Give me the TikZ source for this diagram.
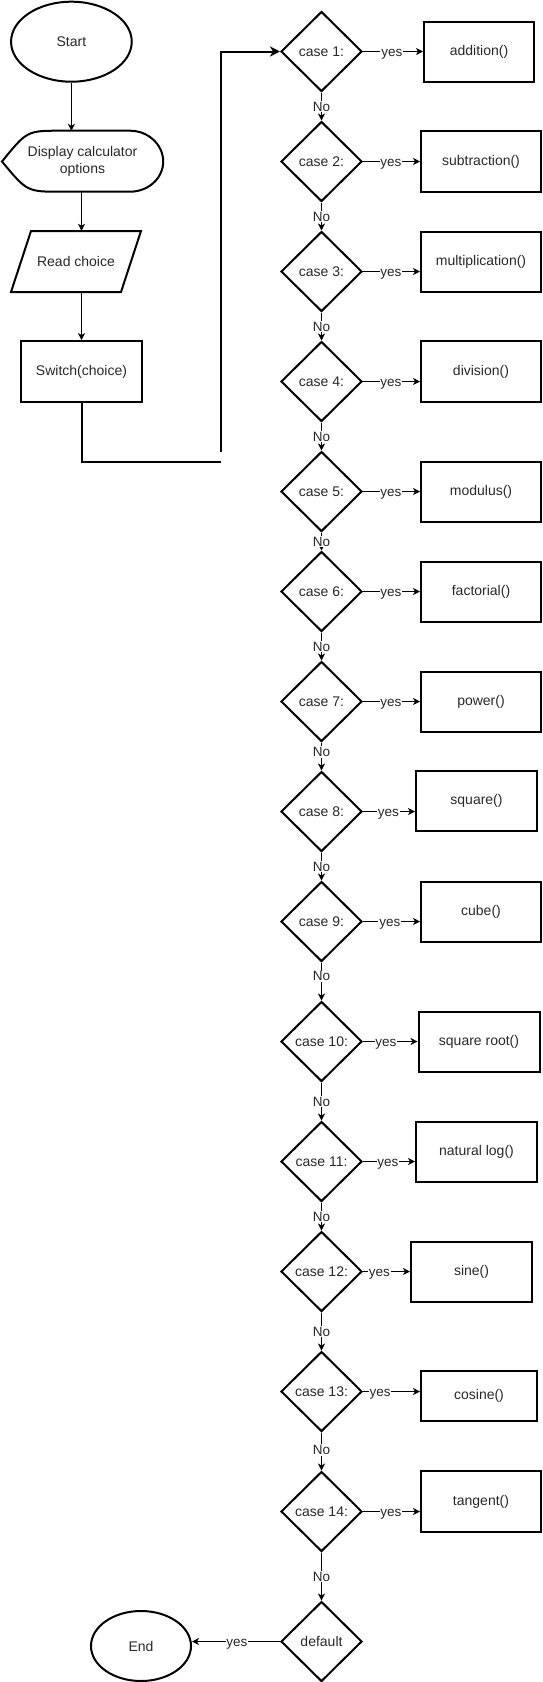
\documentclass[tikz,border=0pt]{standalone}
\usepackage{fontspec}
\setmainfont{Liberation Sans}
\usetikzlibrary{shapes.geometric,arrows.meta}
\definecolor{txt}{RGB}{40,40,40}
\begin{document}
\begin{tikzpicture}[x=1pt,y=-1pt,
  every node/.style={font=\fontsize{14}{17}\selectfont, text=txt, inner sep=0pt},
  shp/.style={draw=black, line width=2pt},
  dec/.style={shp, diamond, aspect=1, minimum width=81pt, minimum height=80pt},
  box/.style={shp, rectangle, minimum width=120pt, minimum height=60pt},
  arr/.style={draw=black, line width=1pt, -{Stealth[length=7pt,width=7pt,inset=2pt]}},
  thickln/.style={draw=black, line width=2pt},
  thickarr/.style={draw=black, line width=2pt, -{Stealth[length=10pt,width=10pt,inset=3pt]}},
  lbl/.style={fill=white, inner sep=0.8pt, text height=9.6pt, text depth=0pt, font=\fontsize{13.5}{16}\selectfont}]
\useasboundingbox (0,0) rectangle (542,1682);

% left column
\node[shp, ellipse, minimum width=120.7pt, minimum height=80pt] (start) at (71.4,41.7) {Start};
\node[minimum width=161pt, minimum height=61pt, align=center] (disp) at (82.5,161.5) {Display calculator\\options};
\draw[shp] (2,161.5) .. controls (27,130.7) .. (61,130.7) -- (130,130.7)
  .. controls (148.2,130.7) and (163.2,144.7) .. (163.2,161.5)
  .. controls (163.2,178.3) and (148.2,191.7) .. (130,191.7) -- (61,191.7)
  .. controls (27,191.7) .. (2,161.5) -- cycle;
\node[minimum width=130pt, minimum height=61pt] (read) at (76,261.5) {Read choice};
\draw[shp] (31,231) -- (141,231) -- (121,292) -- (11,292) -- cycle;
\node[box, minimum width=121pt, minimum height=61pt] (switch) at (81.5,371.5) {Switch(choice)};

\draw[arr] (start.south) -- (start.south |- disp.north);
\draw[arr] ([xshift=-1pt]disp.south) -- ([xshift=-1pt]disp.south |- read.north);
\draw[arr] (read.south -| switch.north) -- (switch.north);

% decisions
\node[dec] (c1) at (321.5,51.5) {case 1:};
\node[dec] (c2) at (321.5,161.5) {case 2:};
\node[dec] (c3) at (321.5,271.5) {case 3:};
\node[dec] (c4) at (321.5,381.5) {case 4:};
\node[dec] (c5) at (321.5,491.5) {case 5:};
\node[dec] (c6) at (321.5,591.5) {case 6:};
\node[dec] (c7) at (321.5,701.5) {case 7:};
\node[dec] (c8) at (321.5,811.5) {case 8:};
\node[dec] (c9) at (321.5,921.5) {case 9:};
\node[dec] (c10) at (321.5,1041.5) {case 10:};
\node[dec] (c11) at (321.5,1161.5) {case 11:};
\node[dec] (c12) at (321.5,1271.5) {case 12:};
\node[dec] (c13) at (321.5,1391.5) {case 13:};
\node[dec] (c14) at (321.5,1511.5) {case 14:};
\node[dec] (dft) at (321.5,1641.5) {default};

% actions
\node[box, minimum width=110pt] (b1) at (479,52) {addition()};
\node[box, minimum height=61pt] (b2) at (481,161.5) {subtraction()};
\node[box] (b3) at (481,262) {multiplication()};
\node[box, minimum height=61pt] (b4) at (481,371.5) {division()};
\node[box] (b5) at (481,491.5) {modulus()};
\node[box] (b6) at (481,591.5) {factorial()};
\node[box] (b7) at (481,701.5) {power()};
\node[box, minimum width=121pt] (b8) at (476.5,801) {square()};
\node[box] (b9) at (481,911.5) {cube()};
\node[box, minimum width=121pt] (b10) at (479,1041.5) {square root()};
\node[box, minimum width=121pt] (b11) at (476.5,1151.5) {natural log()};
\node[box, minimum width=121pt] (b12) at (471.5,1271.5) {sine()};
\node[box, minimum width=116pt, minimum height=50pt] (b13) at (479,1396) {cosine()};
\node[box, minimum height=61pt] (b14) at (481,1501.5) {tangent()};
\node[shp, ellipse, minimum width=100pt, minimum height=70pt] (end) at (141,1646) {End};

% switch connector
\coordinate (j1) at (221,461.7);
\coordinate (j2) at (221,451.7);
\draw[thickln] (switch.south) |- (j1);
\draw[thickarr] (j2) |- (c1.west);

% yes arrows
\draw[arr] (c1.east) -- node[lbl,pos=0.48]{yes} (c1.east -| b1.west);
\draw[arr] (c2.east) -- node[lbl,pos=0.49]{yes} (c2.east -| b2.west);
\draw[arr] (c3.east) -- node[lbl,pos=0.49]{yes} (c3.east -| b3.west);
\draw[arr] (c4.east) -- node[lbl,pos=0.49]{yes} (c4.east -| b4.west);
\draw[arr] (c5.east) -- node[lbl,pos=0.49]{yes} (c5.east -| b5.west);
\draw[arr] (c6.east) -- node[lbl,pos=0.49]{yes} (c6.east -| b6.west);
\draw[arr] (c7.east) -- node[lbl,pos=0.49]{yes} (c7.east -| b7.west);
\draw[arr] (c8.east) -- node[lbl,pos=0.49]{yes} (c8.east -| b8.west);
\draw[arr] (c9.east) -- node[lbl,pos=0.47]{yes} (c9.east -| b9.west);
\draw[arr] (c10.east) -- node[lbl,pos=0.42]{yes} (c10.east -| b10.west);
\draw[arr] (c11.east) -- node[lbl,pos=0.48]{yes} (c11.east -| b11.west);
\draw[arr] (c12.east) -- node[lbl,pos=0.35]{yes} (c12.east -| b12.west);
\draw[arr] (c13.east) -- node[lbl,pos=0.30]{yes} (c13.east -| b13.west);
\draw[arr] (c14.east) -- node[lbl,pos=0.49]{yes} (c14.east -| b14.west);
\draw[arr] (dft.west) -- node[lbl,pos=0.49]{yes} (dft.west -| end.east);

% no arrows
\draw[arr] (c1.south) -- node[lbl]{No} (c2.north);
\draw[arr] (c2.south) -- node[lbl]{No} (c3.north);
\draw[arr] (c3.south) -- node[lbl]{No} (c4.north);
\draw[arr] (c4.south) -- node[lbl]{No} (c5.north);
\draw[arr] (c5.south) -- node[lbl]{No} (c6.north);
\draw[arr] (c6.south) -- node[lbl]{No} (c7.north);
\draw[arr] (c7.south) -- node[lbl,pos=0.34]{No} (c8.north);
\draw[arr] (c8.south) -- node[lbl]{No} (c9.north);
\draw[arr] (c9.south) -- node[lbl,pos=0.36]{No} (c10.north);
\draw[arr] (c10.south) -- node[lbl]{No} (c11.north);
\draw[arr] (c11.south) -- node[lbl]{No} (c12.north);
\draw[arr] (c12.south) -- node[lbl]{No} (c13.north);
\draw[arr] (c13.south) -- node[lbl,pos=0.46]{No} (c14.north);
\draw[arr] (c14.south) -- node[lbl]{No} (dft.north);
\end{tikzpicture}
\end{document}
